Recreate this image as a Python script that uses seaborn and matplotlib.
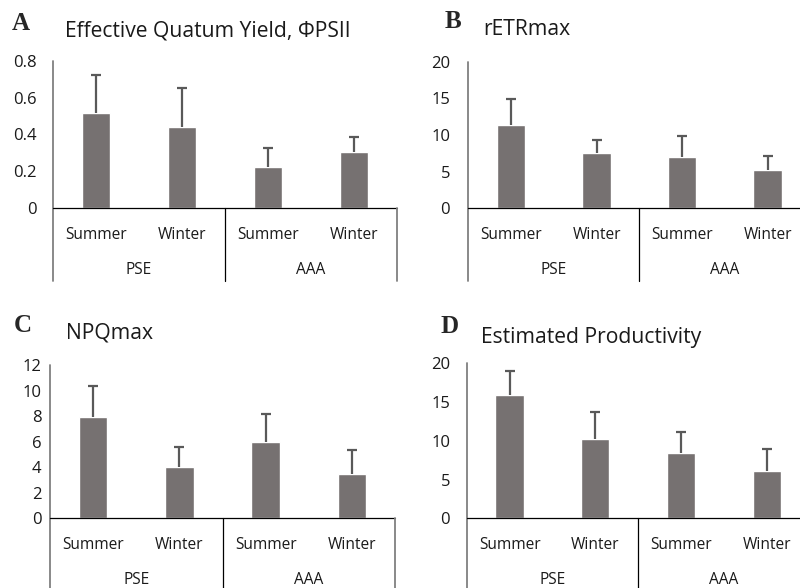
import matplotlib
matplotlib.use('Agg')
import matplotlib.pyplot as plt
import matplotlib.transforms as mtransforms
import pandas as pd
import seaborn as sns

# Data
sites = ['PSE', 'PSE', 'AAA', 'AAA']
seasons = ['Summer', 'Winter', 'Summer', 'Winter']

phi_psii = [0.515, 0.438, 0.225, 0.305]
phi_psii_err = [0.205, 0.212, 0.103, 0.082]
retr_max = [11.3, 7.54, 7.0, 5.27]
retr_max_err = [3.56, 1.76, 2.86, 1.82]
npq_max = [7.9, 4.04, 5.97, 3.44]
npq_max_err = [2.46, 1.52, 2.2, 1.93]
productivity = [15.96, 10.24, 8.47, 6.06]
productivity_err = [3.09, 3.48, 2.67, 2.93]

sns.set_theme(style='white')
plt.rcParams['font.family'] = ['Open Sans', 'DejaVu Sans']

W, H = 800, 588
fig = plt.figure(figsize=(8, 5.88), dpi=100)

BAR = '#767171'
ERR = '#595959'
GREY_LINE = '#808080'
TXT = '#1a1a1a'

# (huruf, judul, nilai, error, ymax, ytick, kiri px, lebar px, y0 px, ytop px, pad tick, posisi huruf, posisi judul)
panels = [
    ('A', 'Effective Quatum Yield, \u03a6PSII', phi_psii, phi_psii_err, 0.8, [0, 0.2, 0.4, 0.6, 0.8],
     53, 344, 208.3, 60.7, 11.5, (12, 30), (65, 37)),
    ('B', 'rETRmax', retr_max, retr_max_err, 20, [0, 5, 10, 15, 20],
     468.3, 342, 208.3, 61.6, 13, (445, 28.5), (483, 35)),
    ('C', 'NPQmax', npq_max, npq_max_err, 12, [0, 2, 4, 6, 8, 10, 12],
     50, 345, 518.3, 365, 6, (14, 332), (66, 339)),
    ('D', 'Estimated Productivity', productivity, productivity_err, 20, [0, 5, 10, 15, 20],
     466.7, 343, 518.3, 363.3, 12, (440, 333), (481, 343)),
]

for letter, title, vals, errs, ymax, yticks, left, width, y0, ytop, pad, lpos, tpos in panels:
    hpx = y0 - ytop
    ax = fig.add_axes([left / W, 1 - y0 / H, width / W, hpx / H])
    df = pd.DataFrame({'key': [s + ' ' + t for s, t in zip(sites, seasons)],
                       'value': vals})
    sns.barplot(data=df, x='key', y='value', color=BAR, saturation=1,
                width=0.33, ax=ax)
    eb = ax.errorbar(range(4), vals, yerr=[[0] * 4, errs], fmt='none',
                     ecolor=ERR, elinewidth=1.6, capsize=3.8, capthick=1.6, zorder=3)
    eb[1][0].set_visible(False)

    ax.set_xlim(-0.5, 3.5)
    ax.set_ylim(0, ymax)
    ax.set_yticks(yticks)
    ax.set_yticklabels([f'{v:g}' for v in yticks])
    ax.set_xticks([])
    ax.set_xlabel('')
    ax.set_ylabel('')
    ax.tick_params(axis='y', length=0, pad=pad, labelsize=12, colors=TXT)
    for sp in ax.spines.values():
        sp.set_visible(False)
    ax.patch.set_alpha(0)

    # garis sumbu dan pemisah kategori
    below = -(281 - 208.3) / hpx
    ax.plot([0, 0], [1, below], transform=ax.transAxes, color=GREY_LINE,
            lw=1.3, clip_on=False)
    ax.plot([0, 1], [0, 0], transform=ax.transAxes, color='#000000',
            lw=0.9, clip_on=False)
    ax.plot([0.5, 0.5], [0, below], transform=ax.transAxes, color='#000000',
            lw=0.9, clip_on=False)
    ax.plot([1, 1], [0, below], transform=ax.transAxes, color=GREY_LINE,
            lw=1.3, clip_on=False)

    # label dua tingkat
    trans = mtransforms.blended_transform_factory(ax.transData, ax.transAxes)
    for i, s in enumerate(seasons):
        ax.text(i, -31 / hpx, s, transform=trans, ha='center', va='baseline',
                fontsize=11.2, color=TXT)
    for cx, s in [(0.5, 'PSE'), (2.5, 'AAA')]:
        ax.text(cx, -66 / hpx, s, transform=trans, ha='center', va='baseline',
                fontsize=11.2, color=TXT)

    fig.text(lpos[0] / W, 1 - lpos[1] / H, letter, fontsize=18, fontweight='bold',
             family=['Liberation Serif', 'DejaVu Serif'], va='baseline', ha='left')
    fig.text(tpos[0] / W, 1 - tpos[1] / H, title, fontsize=15.2, va='baseline',
             ha='left', color=TXT)

fig.savefig('out.png', dpi=100, facecolor='white')
